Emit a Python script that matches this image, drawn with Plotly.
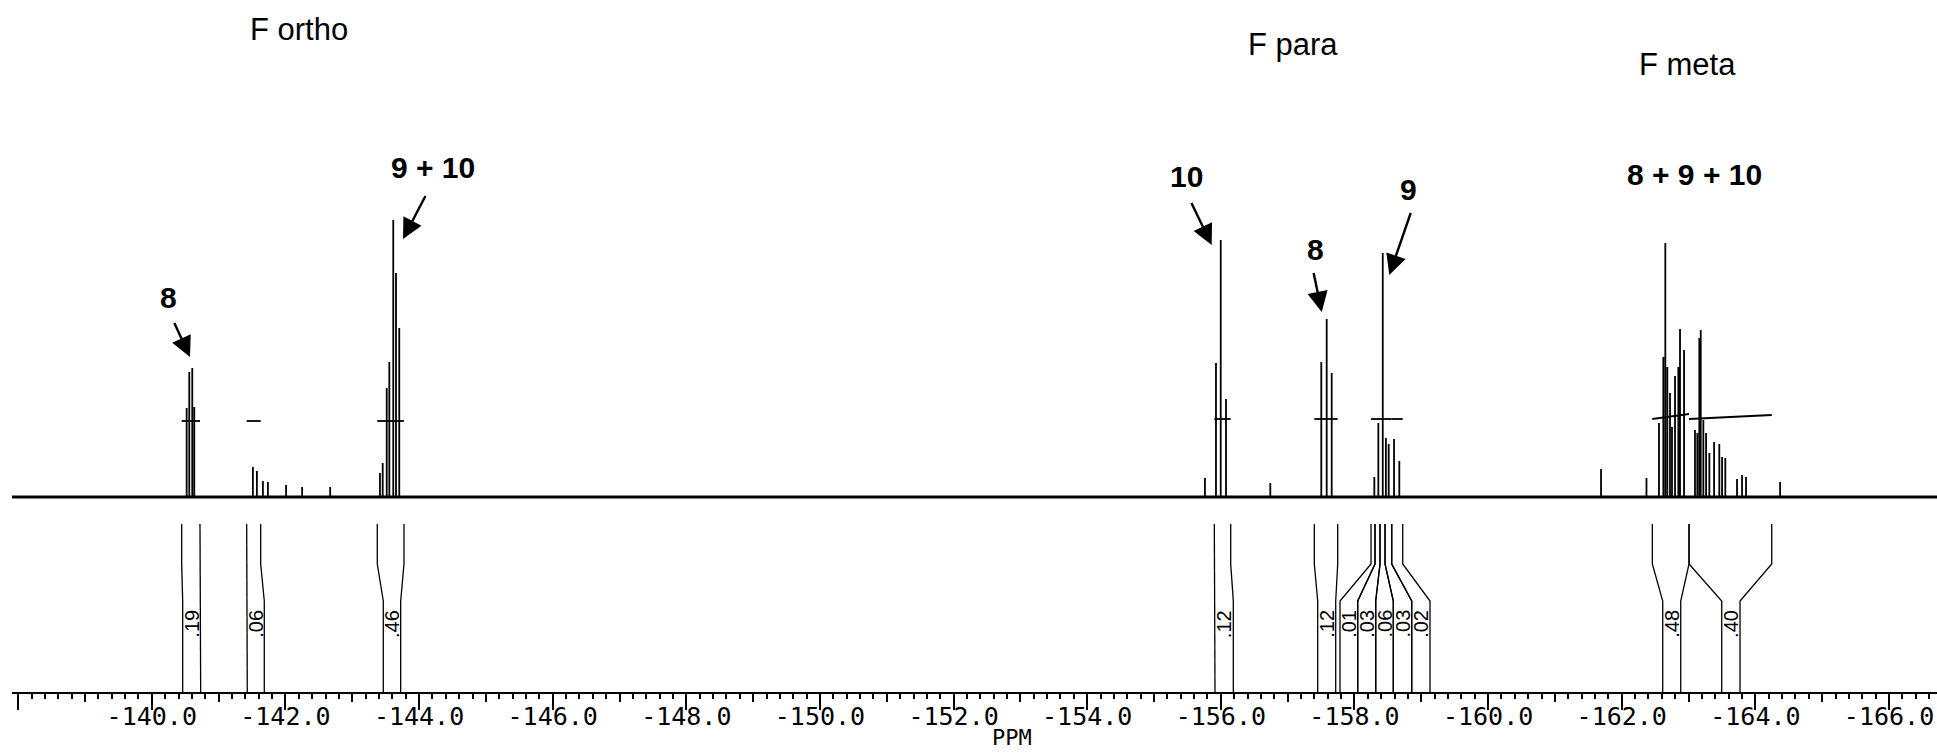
import plotly.graph_objects as go

# --- 19F NMR peak list: chemical shift (ppm) and line intensity -------------
peak_ppm = [
    # F ortho, 8
    -140.522, -140.561, -140.606, -140.636,
    # small multiplet
    -141.513, -141.573, -141.663, -141.738, -142.010, -142.250, -142.670,
    # F ortho, 9 + 10
    -143.415, -143.456, -143.516, -143.555, -143.614, -143.655, -143.704,
    # F para, 10
    -155.762, -155.927, -155.998, -156.077,
    -156.740,
    # F para, 8
    -157.503, -157.584, -157.659,
    # F para, 9
    -158.297, -158.357, -158.423, -158.470, -158.512, -158.592, -158.671,
    # small lines
    -161.690, -162.370,
    # F meta, 8 + 9 + 10
    -162.557, -162.622, -162.652, -162.682, -162.722, -162.752, -162.797,
    -162.847, -162.872, -162.932,
    -163.096, -163.131, -163.161, -163.182, -163.221, -163.262, -163.311,
    -163.382, -163.460, -163.501, -163.550, -163.725, -163.800, -163.860,
    -164.370,
]
peak_height = [
    89, 125, 129, 90,
    30, 26, 16, 15, 12, 10, 10,
    24, 34, 109, 135, 277, 224, 169,
    19, 134, 257, 98,
    14,
    135, 178, 124,
    20, 74, 244, 59, 53, 58, 36,
    28, 19,
    74, 140, 254, 130, 104, 70, 121,
    130, 168, 147,
    67, 64, 159, 167, 77, 64, 44,
    55, 53, 40, 39, 18, 22, 20,
    15,
]

# --- integrals: region limits, spread label slots and values ----------------
int_start = [-140.4475, -141.4203, -143.3750, -155.9020, -157.3987,
             -158.2473, -158.3072, -158.3820, -158.4569, -158.5572,
             -162.4575, -163.0068]
int_end = [-140.7214, -141.6299, -143.7746, -156.1475, -157.7489,
           -158.3072, -158.3820, -158.4569, -158.5572, -158.7218,
           -163.0068, -164.2446]
slot_start = [-140.4625, -141.4293, -143.4648, -155.9125, -157.4496,
              -157.7833, -158.0482, -158.3176, -158.5810, -158.8564,
              -162.6132, -163.4962]
slot_end = [-140.7319, -141.6837, -143.7252, -156.1864, -157.7190,
            -158.0482, -158.3176, -158.5810, -158.8564, -159.1303,
            -162.8826, -163.7701]
int_values = [".19", ".06", ".46", ".12", ".12",
              ".01", ".03", ".06", ".03", ".02",
              ".48", ".40"]
# integral reset marks drawn over the trace (level at start / end)
mark_level_start = [76, 76, 76, 78, 78, 78, 78, 78, 78, 78, 78, 78]
mark_level_end = [76, 76, 76, 78, 78, 78, 78, 78, 78, 78, 83, 82]

# --- tick labels ------------------------------------------------------------
major_vals = [-138, -140, -142, -144, -146, -148, -150, -152, -154,
              -156, -158, -160, -162, -164, -166]
major_text = ["", "-140.0", "-142.0", "-144.0", "-146.0", "-148.0",
              "-150.0", "-152.0", "-154.0", "-156.0", "-158.0", "-160.0",
              "-162.0", "-164.0", "-166.0"]
mid_vals = [-139, -141, -143, -145, -147, -149, -151, -153, -155,
            -157, -159, -161, -163, -165]

# --- headings and assignments ------------------------------------------------
group_text = ["F ortho", "F para", "F meta"]
group_x = [-142.196, -157.080, -162.977]
group_y = [468, 453, 433]

cmpd_text = ["8", "9 + 10", "10", "8", "9", "8 + 9 + 10"]
cmpd_x = [-140.250, -144.209, -155.486, -157.409, -158.801, -163.096]
cmpd_y = [200, 330, 321, 248, 308, 323]

arrow_tail_x = [-140.317, -144.119, -155.538, -157.379, -158.857]
arrow_tail_y = [177, 304, 297, 227, 287]
arrow_tip_x = [-140.572, -143.760, -155.863, -157.510, -158.521]
arrow_tip_y = [140, 258, 252, 185, 222]

X_LEFT, X_RIGHT = -137.908, -166.718
Y_LOW, Y_HIGH = -195, 497
INT_TOP, BEND_A, BEND_B = -27, -67, -104
LABEL_Y = -127

# spectrum trace: each line drawn as a stick from the baseline
order = sorted(range(len(peak_ppm)), key=lambda i: -peak_ppm[i])
sx, sy = [X_LEFT], [0]
for i in order:
    p, h = peak_ppm[i], peak_height[i]
    sx += [p, p, p]
    sy += [0, h, 0]
sx.append(X_RIGHT)
sy.append(0)

fig = go.Figure()
fig.add_trace(go.Scatter(x=[X_LEFT, X_RIGHT], y=[0, 0], xaxis="x2",
                         mode="lines", line=dict(color="black", width=3),
                         hoverinfo="skip", showlegend=False))
fig.add_trace(go.Scatter(x=sx, y=sy, mode="lines",
                         line=dict(color="black", width=1.8),
                         hoverinfo="skip", showlegend=False))

# integral marks over the spectrum
mx, my = [], []
for a, b, l0, l1 in zip(int_start, int_end, mark_level_start, mark_level_end):
    mx += [a, b, None]
    my += [l0, l1, None]
fig.add_trace(go.Scatter(x=mx, y=my, mode="lines",
                         line=dict(color="black", width=1.8),
                         hoverinfo="skip", showlegend=False))

# integral leader lines below the spectrum
lx, ly = [], []
for a, b, c, d in zip(int_start, int_end, slot_start, slot_end):
    for top, bot in ((a, c), (b, d)):
        lx += [top, top, bot, bot, None]
        ly += [INT_TOP, BEND_A, BEND_B, Y_LOW, None]
fig.add_trace(go.Scatter(x=lx, y=ly, mode="lines",
                         line=dict(color="black", width=1.3),
                         hoverinfo="skip", showlegend=False))

annotations = []
for c, d, v in zip(slot_start, slot_end, int_values):
    annotations.append(dict(x=(c + d) / 2, y=LABEL_Y, text=v, textangle=-90,
                            showarrow=False, xanchor="center", yanchor="middle",
                            font=dict(family="Liberation Sans, Arial", size=20,
                                      color="black")))
for t, x, y in zip(group_text, group_x, group_y):
    annotations.append(dict(x=x, y=y, text=t, showarrow=False,
                            xanchor="center", yanchor="middle",
                            font=dict(family="Liberation Sans, Arial", size=31,
                                      color="black")))
for t, x, y in zip(cmpd_text, cmpd_x, cmpd_y):
    annotations.append(dict(x=x, y=y, text="<b>" + t + "</b>", showarrow=False,
                            xanchor="center", yanchor="middle",
                            font=dict(family="Liberation Sans, Arial", size=30,
                                      color="black")))
for tx, ty, hx, hy in zip(arrow_tail_x, arrow_tail_y, arrow_tip_x, arrow_tip_y):
    annotations.append(dict(x=hx, y=hy, ax=tx, ay=ty, xref="x", yref="y",
                            axref="x", ayref="y", text=" ", showarrow=True,
                            arrowhead=2, arrowsize=1.7, arrowwidth=2.4,
                            arrowcolor="black", standoff=0, startstandoff=0,
                            font=dict(size=2)))
annotations.append(dict(x=-152.88, y=-0.066, xref="x", yref="paper",
                        text="PPM", showarrow=False,
                        xanchor="center", yanchor="middle",
                        font=dict(family="DejaVu Sans Mono", size=22,
                                  color="black")))

fig.update_layout(
    width=1937, height=754,
    margin=dict(l=12, r=0, t=0, b=62),
    paper_bgcolor="white", plot_bgcolor="white",
    showlegend=False,
    annotations=annotations,
    xaxis=dict(range=[X_LEFT, X_RIGHT], tickmode="array",
               tickvals=major_vals, ticktext=major_text,
               ticks="outside", ticklen=16, tickwidth=1.8, tickcolor="black",
               ticklabelstandoff=-15,
               showline=True, linewidth=2, linecolor="black",
               showgrid=False, zeroline=False,
               tickfont=dict(family="DejaVu Sans Mono", size=25, color="black"),
               minor=dict(ticks="outside", ticklen=5, tickwidth=1.5,
                          tickcolor="black", tickmode="linear", tick0=0,
                          dtick=0.2, showgrid=False)),
    xaxis2=dict(overlaying="x", matches="x", anchor="y", side="bottom",
                tickmode="array", tickvals=mid_vals, ticks="outside",
                ticklen=9, tickwidth=1.6, tickcolor="black",
                showticklabels=False, showline=False, showgrid=False,
                zeroline=False),
    yaxis=dict(range=[Y_LOW, Y_HIGH], visible=False, showgrid=False,
               zeroline=False),
)

fig.write_html("out.html")
